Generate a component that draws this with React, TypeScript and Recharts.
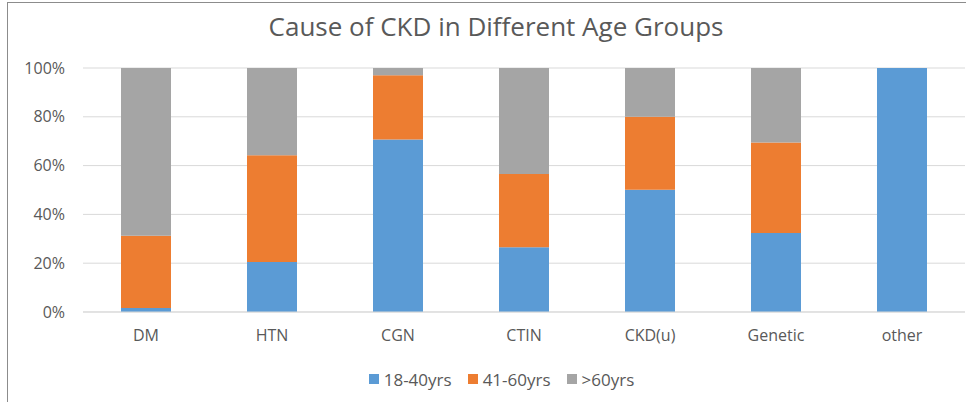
import React from "react";
import { Bar, BarChart, CartesianGrid, Legend, XAxis, YAxis } from "recharts";

const causes = ["DM", "HTN", "CGN", "CTIN", "CKD(u)", "Genetic", "other"];
const age18to40 = [1.6, 20.5, 70.7, 26.5, 50.1, 32.4, 100];
const age41to60 = [29.7, 43.7, 26.3, 30.1, 29.9, 37.1, 0];
const ageOver60 = [68.7, 35.8, 3.0, 43.4, 20.0, 30.5, 0];
const yTicks = [0, 20, 40, 60, 80, 100];

const seriesInfo = [
    { key: "a", name: "18-40yrs", color: "#5B9BD5" },
    { key: "b", name: "41-60yrs", color: "#ED7D31" },
    { key: "c", name: ">60yrs", color: "#A5A5A5" },
];

const data = causes.map((cause, i) => ({
    cause,
    a: age18to40[i],
    b: age41to60[i],
    c: ageOver60[i],
}));

const FONT = "'Open Sans', sans-serif";
const TEXT = "#595959";

function LegendBox() {
    return (
        <div
            style={{
                height: 30,
                display: "flex",
                justifyContent: "center",
                alignItems: "center",
                paddingLeft: 30,
                fontFamily: FONT,
                fontSize: 17,
                color: TEXT,
            }}
        >
            {seriesInfo.map((s) => (
                <div key={s.key} style={{ display: "flex", alignItems: "center", margin: "0 8px" }}>
                    <span style={{ width: 10, height: 10, background: s.color, marginRight: 5 }} />
                    <span>{s.name}</span>
                </div>
            ))}
        </div>
    );
}

export default function App() {
    return (
        <div
            style={{
                position: "fixed",
                left: 0,
                top: 0,
                width: 966,
                height: 402,
                background: "#fff",
                overflow: "hidden",
            }}
        >
            <div
                style={{
                    position: "absolute",
                    left: 7,
                    top: 2,
                    width: 970,
                    height: 410,
                    border: "1px solid #8c8c8c",
                    boxSizing: "border-box",
                }}
            />
            <div
                style={{
                    position: "absolute",
                    top: 8,
                    left: 0,
                    width: 992,
                    textAlign: "center",
                    fontFamily: FONT,
                    fontSize: 26,
                    color: TEXT,
                }}
            >
                Cause of CKD in Different Age Groups
            </div>
            <div style={{ position: "absolute", left: 0, top: 0 }}>
                <BarChart
                    width={966}
                    height={402}
                    data={data}
                    margin={{ top: 68, right: 1, left: 8, bottom: 8 }}
                >
                    <CartesianGrid vertical={false} stroke="#D9D9D9" strokeWidth={1} />
                    <XAxis
                        dataKey="cause"
                        height={52}
                        axisLine={{ stroke: "#D9D9D9" }}
                        tickLine={false}
                        tickMargin={12}
                        tick={{ fill: TEXT, fontSize: 16, fontFamily: FONT }}
                    />
                    <YAxis
                        width={75}
                        domain={[0, 100]}
                        ticks={yTicks}
                        tickFormatter={(v: number) => `${v}%`}
                        axisLine={false}
                        tickLine={false}
                        tickMargin={12}
                        tick={{ fill: TEXT, fontSize: 16, fontFamily: FONT }}
                    />
                    <Legend verticalAlign="bottom" height={30} content={<LegendBox />} />
                    {seriesInfo.map((s) => (
                        <Bar
                            key={s.key}
                            dataKey={s.key}
                            name={s.name}
                            stackId="age"
                            fill={s.color}
                            barSize={50}
                            isAnimationActive={false}
                        />
                    ))}
                </BarChart>
            </div>
        </div>
    );
}
